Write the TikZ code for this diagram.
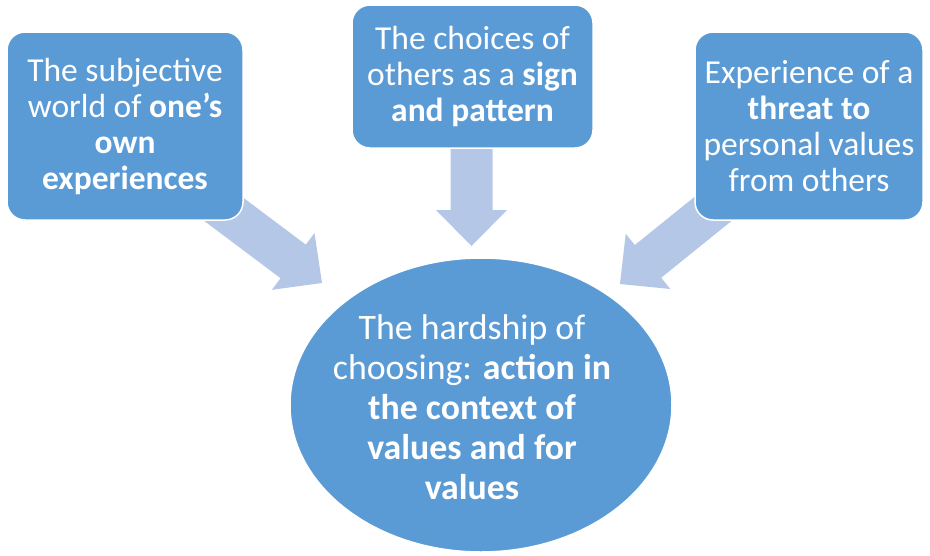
\documentclass[tikz,border=0pt]{standalone}
\usepackage{fontspec}
\setmainfont{Carlito}
\usetikzlibrary{calc,shapes.geometric}

\definecolor{boxblue}{HTML}{5B9BD5}
\definecolor{arrowblue}{HTML}{B4C7E7}

% Block arrow from a tail coordinate to a tip coordinate:
% shaft half-width 21, head half-width 35.5, head length 36
\newcommand\drawblockarrow[2]{%
  \fill[arrowblue]
    ($(#1)!21pt!90:(#2)$) --
    ($($(#2)!36pt!(#1)$)!21pt!-90:(#1)$) --
    ($($(#2)!36pt!(#1)$)!35.5pt!-90:(#1)$) --
    (#2) --
    ($($(#2)!36pt!(#1)$)!35.5pt!90:(#1)$) --
    ($($(#2)!36pt!(#1)$)!21pt!90:(#1)$) --
    ($(#1)!21pt!-90:(#2)$) -- cycle;%
}

\tikzset{
  topbox/.style={rectangle, rounded corners=18pt, fill=boxblue, draw=white,
    line width=1.5pt, text=white, align=center, inner sep=0pt,
    font=\fontsize{33.5}{36}\selectfont},
  goalshape/.style={ellipse, fill=boxblue, draw=white, line width=1.5pt,
    inner sep=0pt, minimum width=382pt, minimum height=294pt},
  goaltextstyle/.style={text=white, align=center, inner sep=0pt,
    font=\fontsize{35.8}{40}\selectfont},
}

\begin{document}
\begin{tikzpicture}[x=1pt, y=-1pt]
\useasboundingbox (0,0) rectangle (930,555);

% arrow ends (tails sit beneath the boxes)
\coordinate (la-tail) at (210,199);
\coordinate (la-tip)  at (322,283);
\coordinate (ma-tail) at (471.5,140);
\coordinate (ma-tip)  at (471.5,246);
\coordinate (ra-tail) at (729,196);
\coordinate (ra-tip)  at (620,284);

\drawblockarrow{la-tail}{la-tip}
\drawblockarrow{ma-tail}{ma-tip}
\drawblockarrow{ra-tail}{ra-tip}

% three source boxes
\node[topbox, minimum width=236pt, minimum height=188pt] (own) at (125,126)
  {The subjective\\world of \textbf{one’s}\\\textbf{own}\\\textbf{experiences}};
\node[topbox, minimum width=241pt, minimum height=143pt] (others) at (472.5,76.5)
  {The choices of\\others as a \textbf{sign}\\\textbf{and pattern}};
\node[topbox, minimum width=228pt, minimum height=188pt] (threat) at (809,126)
  {Experience of a\\\textbf{threat to}\\personal values\\from others};

% central ellipse
\node[goalshape] (goal) at (481,405) {};
\node[goaltextstyle] (goaltext) at ($(goal.center)+(-9,2)$)
  {The hardship of\\choosing: \textbf{action in}\\\textbf{the context of}\\\textbf{values and for}\\\textbf{values}};
\end{tikzpicture}
\end{document}
